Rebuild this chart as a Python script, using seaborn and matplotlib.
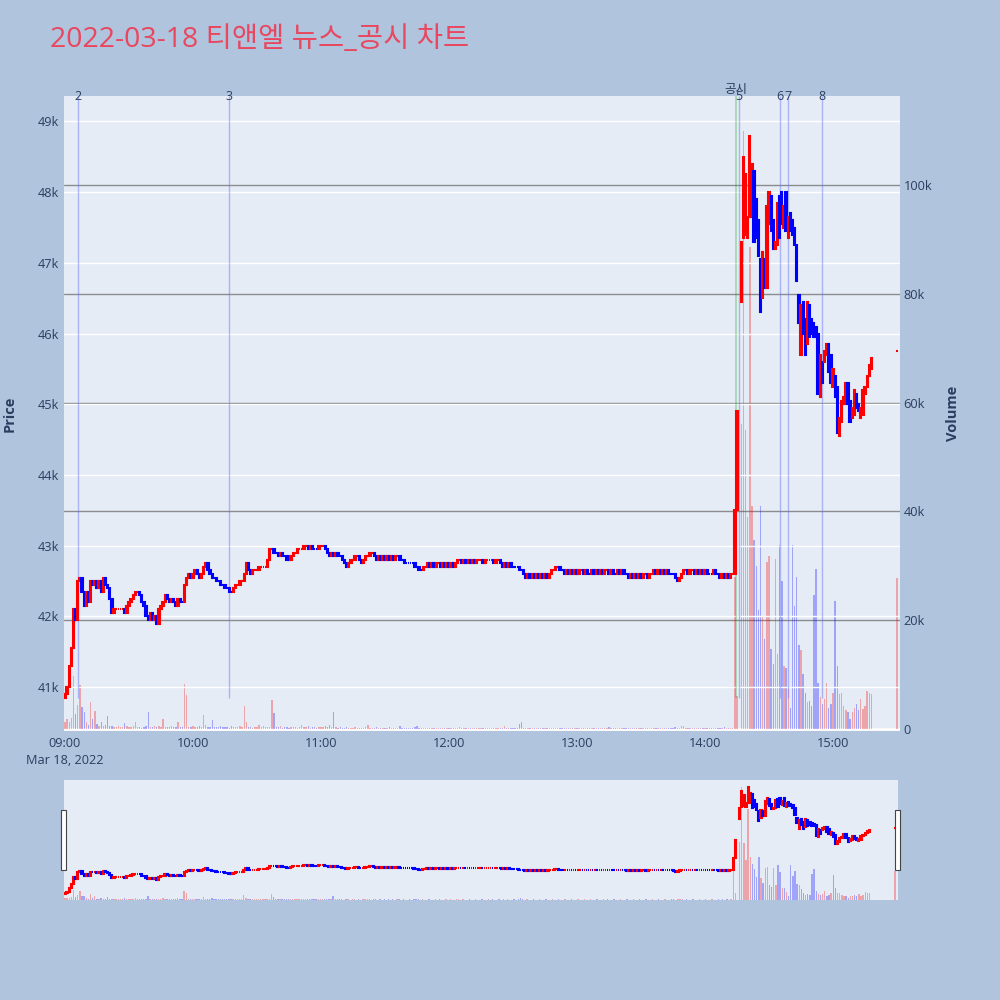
import numpy as np
import pandas as pd
import matplotlib
matplotlib.use("Agg")
import matplotlib.pyplot as plt
import matplotlib.transforms as mtransforms
from matplotlib.patches import Rectangle
import seaborn as sns

# ---------------- data (minutes after 09:00) ----------------
first_open = 40850
# 1-minute closes 09:00 .. 14:15 (minute 0 .. 315)
close_am = [
    40900, 41000, 41300, 41550, 42100, 41950, 42500, 42550, 42350, 42150,
    42350, 42200, 42500, 42450, 42500, 42400, 42500, 42350, 42550, 42450,
    42400, 42250, 42050, 42100, 42100, 42100, 42100, 42100, 42050, 42150,
    42200, 42250, 42300, 42350, 42350, 42300, 42200, 42150, 42000, 41950,
    42050, 41950, 42000, 41900, 42100, 42150, 42200, 42300, 42250, 42200,
    42250, 42200, 42150, 42250, 42200, 42200, 42450, 42550, 42600, 42550,
    42600, 42650, 42600, 42550, 42600, 42700, 42750, 42650, 42600, 42550,
    42550, 42500, 42500, 42450, 42450, 42400, 42400, 42350, 42350, 42400,
    42450, 42450, 42500, 42500, 42600, 42750, 42650, 42600, 42650, 42650,
    42650, 42700, 42700, 42700, 42700, 42800, 42950, 42950, 42900, 42900,
    42850, 42900, 42850, 42850, 42800, 42800, 42850, 42900, 42900, 42950,
    42950, 42950, 43000, 43000, 42950, 43000, 42950, 42950, 42950, 43000,
    43000, 43000, 42950, 42900, 42850, 42900, 42850, 42900, 42850, 42850,
    42800, 42750, 42700, 42750, 42800, 42800, 42850, 42850, 42800, 42750,
    42800, 42850, 42850, 42900, 42900, 42850, 42800, 42850, 42800, 42850,
    42800, 42850, 42800, 42850, 42800, 42850, 42850, 42800, 42800, 42750,
    42750, 42750, 42750, 42750, 42700, 42700, 42650, 42650, 42700, 42700,
    42750, 42700, 42750, 42700, 42750, 42750, 42700, 42750, 42700, 42750,
    42700, 42750, 42700, 42750, 42800, 42800, 42750, 42800, 42750, 42800,
    42750, 42800, 42750, 42800, 42800, 42800, 42750, 42800, 42800, 42800,
    42800, 42750, 42800, 42800, 42750, 42700, 42750, 42700, 42750, 42700,
    42700, 42700, 42700, 42650, 42650, 42600, 42550, 42600, 42550, 42600,
    42550, 42600, 42550, 42600, 42550, 42600, 42550, 42600, 42650, 42650,
    42700, 42700, 42650, 42650, 42600, 42650, 42600, 42650, 42600, 42650,
    42600, 42650, 42650, 42600, 42650, 42600, 42600, 42650, 42600, 42650,
    42600, 42650, 42600, 42650, 42650, 42600, 42650, 42600, 42600, 42650,
    42600, 42650, 42600, 42600, 42550, 42600, 42550, 42600, 42550, 42600,
    42550, 42600, 42600, 42550, 42600, 42600, 42650, 42600, 42650, 42600,
    42650, 42600, 42650, 42600, 42600, 42600, 42550, 42500, 42550, 42600,
    42650, 42650, 42600, 42650, 42650, 42600, 42650, 42600, 42650, 42600,
    42650, 42600, 42600, 42600, 42650, 42600, 42600, 42550, 42600, 42550,
    42600, 42550, 42600, 42600,
    43500, 44900,
]
vol_am = [
    1200, 1800, 1200, 2100, 9700, 2700, 4500, 8100, 4000, 3100,
    1200, 800, 5000, 1800, 3300, 900, 600, 1200, 600, 800,
    2400, 600, 500, 400, 300, 500, 400, 300, 1100, 600,
    300, 400, 500, 1300, 400, 300, 200, 400, 500, 3100,
    400, 300, 600, 300, 500, 400, 1900, 300, 400, 300,
    500, 300, 400, 1200, 300, 400, 8300, 6300, 400, 300,
    600, 300, 400, 500, 300, 2500, 700, 400, 300, 1600,
    300, 400, 300, 600, 300, 400, 300, 200, 500, 300,
    400, 300, 500, 300, 4200, 1200, 300, 400, 200, 300,
    300, 700, 400, 600, 300, 400, 300, 5300, 3000, 400,
    300, 600, 200, 400, 300, 200, 300, 400, 300, 200,
    300, 800, 400, 300, 500, 200, 300, 400, 200, 300,
    400, 300, 600, 300, 700, 400, 3100, 300, 200, 300,
    200, 100, 300, 200, 100, 200, 300, 100, 200, 100,
    200, 300, 800, 200, 100, 200, 300, 100, 200, 100,
    200, 100, 300, 100, 200, 100, 200, 500, 100, 200,
    100, 100, 200, 100, 300, 500, 200, 100, 200, 100,
    100, 200, 100, 100, 200, 100, 200, 100, 100, 200,
    100, 200, 100, 100, 200, 300, 100, 200, 100, 100,
    200, 100, 100, 200, 100, 100, 200, 100, 100, 200,
    100, 200, 100, 100, 200, 100, 600, 100, 200, 100,
    100, 200, 100, 900, 1200, 200, 100, 200, 100, 100,
    200, 100, 100, 200, 100, 100, 200, 100, 100, 200,
    100, 100, 200, 100, 100, 200, 100, 100, 200, 100,
    100, 200, 100, 100, 200, 100, 100, 200, 100, 100,
    200, 100, 100, 200, 100, 300, 100, 100, 200, 100,
    100, 200, 100, 100, 200, 100, 100, 200, 100, 100,
    200, 100, 100, 200, 100, 100, 200, 100, 100, 200,
    100, 100, 200, 100, 100, 200, 300, 100, 200, 600,
    500, 100, 200, 100, 100, 200, 100, 100, 200, 100,
    100, 200, 100, 100, 200, 100, 100, 200, 100, 300,
    100, 200, 100, 200,
    28000, 6000,
]
# afternoon after the volatility halt (14:17 .. 15:18) and the 15:30 close
minutes_pm = list(range(317, 379)) + [390]
open_pm = [
    46450, 47350, 47400, 47350, 47650, 47650, 48300, 47900, 47600, 47050,
    46500, 47050, 46650, 47550, 47950, 47600, 47200, 47250, 47950, 48000,
    47500, 48000, 47350, 47700, 47600, 47500, 47250, 46550, 45700, 46450,
    46200, 45850, 46400, 46200, 46150, 46100, 46000, 45100, 45600, 45600,
    45700, 45850, 45700, 45250, 45400, 45250, 44550, 44750, 45000, 45000,
    45300, 45050, 44800, 44850, 45150, 45000, 44800, 44850, 45150, 45250,
    45400, 45500, 45750,
]
close_pm = [
    47300, 48500, 48250, 47650, 48800, 48400, 47300, 47350, 47100, 46300,
    47150, 46650, 47800, 48000, 47450, 47200, 47300, 47850, 47350, 47550,
    47800, 47450, 47650, 47450, 47400, 47250, 46750, 46150, 46400, 46000,
    45700, 46450, 45950, 46000, 45950, 45950, 45150, 45700, 45300, 45750,
    45850, 45450, 45300, 45500, 45100, 44600, 44800, 45050, 45100, 45300,
    45000, 44750, 44950, 45200, 44950, 44900, 44950, 45200, 45250, 45400,
    45550, 45650, 45750,
]
vol_pm = [
    56000, 110000, 55000, 39000, 88600, 41000, 34700, 30000, 21800, 41000,
    20700, 16500, 30700, 31800, 14700, 12000, 31200, 13800, 33900, 27300,
    11600, 11300, 7300, 3900, 33900, 22700, 27900, 15400, 14500, 10100,
    6700, 4900, 5200, 4300, 24600, 29500, 8500, 5800, 4600, 5500,
    8500, 3900, 4600, 6700, 23600, 11600, 6400, 6700, 4300, 3400,
    3100, 1800, 3100, 3900, 4600, 3400, 5500, 3700, 4300, 7000,
    6700, 6500, 27700,
]
news_labels = ["2", "3", "공시", "5", "6", "7", "8"]
news_minutes = [6, 77, 314.5, 316, 335, 339, 355]
price_ticks = [41000, 42000, 43000, 44000, 45000, 46000, 47000, 48000, 49000]
price_tick_labels = ["41k", "42k", "43k", "44k", "45k", "46k", "47k", "48k", "49k"]
vol_ticks = [0, 20000, 40000, 60000, 80000, 100000]
vol_tick_labels = ["0", "20k", "40k", "60k", "80k", "100k"]
time_ticks = [0, 60, 120, 180, 240, 300, 360]
time_tick_labels = ["09:00\nMar 18, 2022", "10:00", "11:00", "12:00", "13:00", "14:00", "15:00"]
title = "2022-03-18 티앤엘 뉴스_공시 차트"

# ---------------- assemble table ----------------
assert len(close_am) == len(vol_am) == 316, (len(close_am), len(vol_am))
assert len(minutes_pm) == len(open_pm) == len(close_pm) == len(vol_pm), \
    (len(minutes_pm), len(open_pm), len(close_pm), len(vol_pm))
open_am = [first_open] + close_am[:-1]
df = pd.DataFrame({
    "t": list(range(len(close_am))) + minutes_pm,
    "o": open_am + open_pm,
    "c": close_am + close_pm,
    "v": vol_am + vol_pm,
})
dirs = []
prev_c, prev_d = None, "up"
for o, c in zip(df["o"], df["c"]):
    if c > o:
        d = "up"
    elif c < o:
        d = "down"
    elif prev_c is not None and c > prev_c:
        d = "up"
    elif prev_c is not None and c < prev_c:
        d = "down"
    else:
        d = prev_d
    dirs.append(d)
    prev_c, prev_d = c, d
df["dir"] = dirs

RED, BLUE = "#FF0000", "#0000FF"
pal = {"up": RED, "down": BLUE}
TXT = "#2a3f5f"
PLOT_BG = "#E5ECF6"
FIG_BG = "#B0C4DE"

sns.set_theme(style="white")
plt.rcParams["font.family"] = ["Open Sans", "Noto Sans CJK KR", "DejaVu Sans"]

XLIM = (-0.7, 391.4)
PLIM = (40380, 49360)
VLIM = (-370, 116400)


def draw_panel(ax_v, ax_p):
    ax_v.set_facecolor(PLOT_BG)
    sns.barplot(data=df, x="t", y="v", hue="dir", palette=pal, native_scale=True,
                dodge=False, width=0.65, alpha=0.3, saturation=1, linewidth=0,
                errorbar=None, legend=False, ax=ax_v)
    cols = df["dir"].map(pal).tolist()
    bottoms = np.minimum(df["o"], df["c"])
    heights = np.abs(df["c"] - df["o"])
    ax_p.bar(df["t"], heights, bottom=bottoms, width=0.6, color=cols,
             edgecolor=cols, linewidth=1.5, zorder=3)
    for a in (ax_v, ax_p):
        a.set_xlim(*XLIM)
        for s in a.spines.values():
            s.set_visible(False)
        a.set_xlabel("")
        a.set_ylabel("")
    ax_v.set_ylim(*VLIM)
    ax_p.set_ylim(*PLIM)


fig = plt.figure(figsize=(10, 10), dpi=100)
fig.patch.set_facecolor(FIG_BG)

# ---- main panel ----
ax_v = fig.add_axes([0.0635, 0.269, 0.8365, 0.635])
ax_p = ax_v.twinx()
draw_panel(ax_v, ax_p)
ax_v.yaxis.tick_right()
ax_p.yaxis.tick_left()
ax_v.set_yticks(vol_ticks)
ax_v.set_yticklabels(vol_tick_labels)
ax_p.set_yticks(price_ticks)
ax_p.set_yticklabels(price_tick_labels)
ax_v.grid(False)
ax_p.grid(False)
ax_v.grid(axis="y", color="#8c8c8c", linewidth=1.0)
ax_v.axhline(0, color="white", linewidth=2.0, zorder=0.9)
ax_p.set_axisbelow(True)
ax_p.grid(axis="y", color="white", linewidth=1.0)
ax_p.grid(axis="x", visible=False)
ax_v.grid(axis="x", visible=False)
ax_v.set_xticks(time_ticks)
ax_v.set_xticklabels(time_tick_labels)
for lab in ax_v.get_xticklabels():
    lab.set_linespacing(1.4)
ax_v.tick_params(axis="x", length=0, pad=4, labelsize=9.2, labelcolor=TXT)
ax_v.tick_params(axis="y", length=0, pad=2.5, labelsize=9.2, labelcolor=TXT,
                 left=False, labelleft=False, right=False, labelright=True)
ax_p.tick_params(axis="y", length=0, pad=3.5, labelsize=9.2, labelcolor=TXT,
                 right=False, labelright=False, left=False, labelleft=True)

# news / disclosure markers
low_min = min(min(df["o"]), min(df["c"]))
trans = mtransforms.blended_transform_factory(ax_p.transData, ax_p.transAxes)
for lab, m in zip(news_labels, news_minutes):
    if lab == "공시":
        ax_p.vlines(m, low_min, PLIM[1], colors="#00a000", alpha=0.3, linewidth=1.2, zorder=2)
        ax_p.text(m, 1.011, lab, transform=trans, ha="center", va="center",
                  fontsize=9.0, color=TXT, family=["Noto Sans CJK KR", "DejaVu Sans"])
    else:
        ax_p.vlines(m, low_min, PLIM[1], colors="#636efa", alpha=0.45, linewidth=1.0, zorder=2)
        ax_p.text(m, 1.0, lab, transform=trans, ha="center", va="center",
                  fontsize=9.0, color=TXT)

fig.text(0.05, 0.96, title, ha="left", va="center", fontsize=20.5, color="#E8475F",
         family=["Open Sans", "Noto Sans CJK KR"])
fig.text(0.010, 0.5865, "Price", rotation=90, ha="center", va="center",
         fontsize=10.5, fontweight="bold", color=TXT)
fig.text(0.953, 0.5865, "Volume", rotation=90, ha="center", va="center",
         fontsize=10.5, fontweight="bold", color=TXT)

# ---- range slider ----
ax_sv = fig.add_axes([0.0635, 0.100, 0.8345, 0.120])
ax_sp = ax_sv.twinx()
draw_panel(ax_sv, ax_sp)
for a in (ax_sv, ax_sp):
    a.set_xticks([])
    a.set_yticks([])
    a.grid(False)
for xh in (0.061, 0.895):
    fig.patches.append(Rectangle((xh, 0.130), 0.005, 0.060, transform=fig.transFigure,
                                 facecolor="white", edgecolor="#444444", linewidth=0.8))

fig.savefig("out.png", dpi=100, facecolor=FIG_BG)
